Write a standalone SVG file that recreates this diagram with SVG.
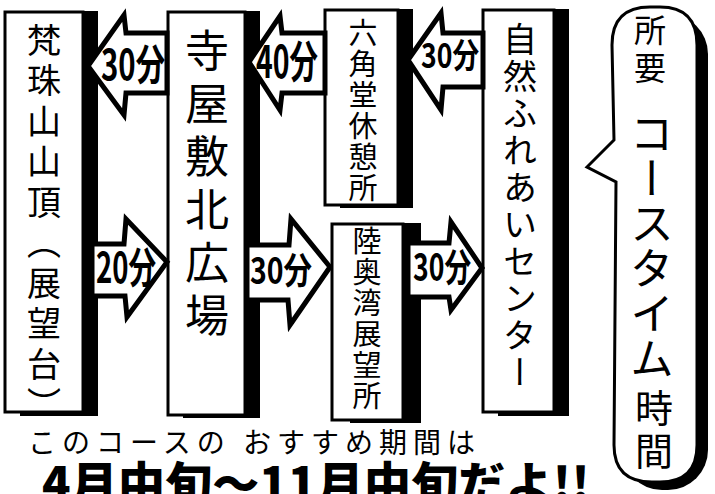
<svg xmlns="http://www.w3.org/2000/svg" width="715" height="494" viewBox="0 0 715 494">
<style>
.box{fill:#fff;stroke:#000;stroke-width:3}
.shadow{fill:#000}
.arrow{fill:#fff;stroke:#000;stroke-width:5;stroke-linejoin:miter}
.vt{font-family:"Noto Sans CJK JP","Noto Sans CJK SC",sans-serif;writing-mode:vertical-rl;fill:#000}
.lbl{font-family:"Noto Sans CJK JP","Noto Sans CJK SC",sans-serif;font-weight:700;text-anchor:middle;fill:#000}
.foot{font-family:"Noto Sans CJK JP","Noto Sans CJK SC",sans-serif;fill:#000}
</style>
<rect width="715" height="494" fill="#fff"/>

<g id="node-bonjusan">
<rect class="shadow" x="20" y="11" width="78" height="405"/>
<rect class="box" x="5" y="12" width="78" height="400"/>
<text class="vt" x="44" y="23" font-size="34" letter-spacing="6.5">梵珠山山頂（展望台）</text>
</g>

<g id="node-teraya">
<rect class="shadow" x="183" y="11" width="77" height="407"/>
<rect class="box" x="168" y="12" width="77" height="403"/>
<text class="vt" x="207" y="28" font-size="44" letter-spacing="9">寺屋敷北広場</text>
</g>

<g id="node-rokkakudo">
<rect class="shadow" x="340" y="9" width="73" height="199"/>
<rect class="box" x="325" y="10" width="73" height="195"/>
<text class="vt" x="363" y="18" font-size="29" letter-spacing="2">六角堂休憩所</text>
</g>

<g id="node-mutsuwan">
<rect class="shadow" x="350" y="223" width="71" height="200"/>
<rect class="box" x="332" y="224" width="71" height="196"/>
<text class="vt" x="367" y="226" font-size="29" letter-spacing="2">陸奥湾展望所</text>
</g>

<g id="node-shizen">
<rect class="shadow" x="498" y="9" width="71" height="407"/>
<rect class="box" x="483" y="10" width="71" height="402"/>
<text class="vt" x="520" y="22" font-size="34" letter-spacing="3">自然ふれあいセンター</text>
</g>

<g id="node-bubble">
<rect class="shadow" x="622" y="14" width="86" height="476" rx="40"/>
<path class="box" d="M614,140 L587,167 L616,182 L614,445 Q614,482 652,482 L660,482 Q697,482 697,445 L697,45 Q697,7 660,7 L650,7 Q612,7 612,45 Z"/>
<text class="vt" x="650" y="14" font-size="32" letter-spacing="6">所要</text>
<text class="vt" x="652" y="111" font-size="44" letter-spacing="1">コースタイム</text>
<text class="vt" x="654" y="389" font-size="38" letter-spacing="5">時間</text>
</g>

<g id="connectors">
<path class="arrow" d="M167,33 L126,33 L124,15 L88,66 L124,115 L126,93 L167,93 Z"/>
<path class="arrow" d="M325,33 L282,33 L280,16 L249,62 L280,110 L282,93 L325,93 Z"/>
<path class="arrow" d="M483,33 L443,33 L441,13 L408,60 L441,110 L443,87 L483,87 Z"/>
<path class="arrow" d="M92,244 L124,244 L126,219 L167,262 L127,317 L125,296 L92,296 Z"/>
<path class="arrow" d="M247,245 L289,245 L291,219 L330,267 L290,325 L288,300 L247,300 Z"/>
<path class="arrow" d="M408,243 L449,243 L451,222 L482,268 L451,310 L449,297 L408,297 Z"/>
<text class="lbl" x="133" y="80" font-size="42" textLength="64" lengthAdjust="spacingAndGlyphs">30分</text>
<text class="lbl" x="287" y="78" font-size="44" textLength="62" lengthAdjust="spacingAndGlyphs">40分</text>
<text class="lbl" x="450" y="68" font-size="34" textLength="58" lengthAdjust="spacingAndGlyphs">30分</text>
<text class="lbl" x="126" y="283" font-size="42" textLength="60" lengthAdjust="spacingAndGlyphs">20分</text>
<text class="lbl" x="281" y="284" font-size="36" textLength="62" lengthAdjust="spacingAndGlyphs">30分</text>
<text class="lbl" x="442" y="281" font-size="38" textLength="58" lengthAdjust="spacingAndGlyphs">30分</text>
</g>

<text class="foot" x="28" y="453" font-size="28" textLength="447" lengthAdjust="spacing">このコースの おすすめ期間は</text>
<text class="foot" x="42" y="501" font-size="47" font-weight="900" textLength="548" lengthAdjust="spacing">4月中旬〜11月中旬だよ!!</text>
</svg>
